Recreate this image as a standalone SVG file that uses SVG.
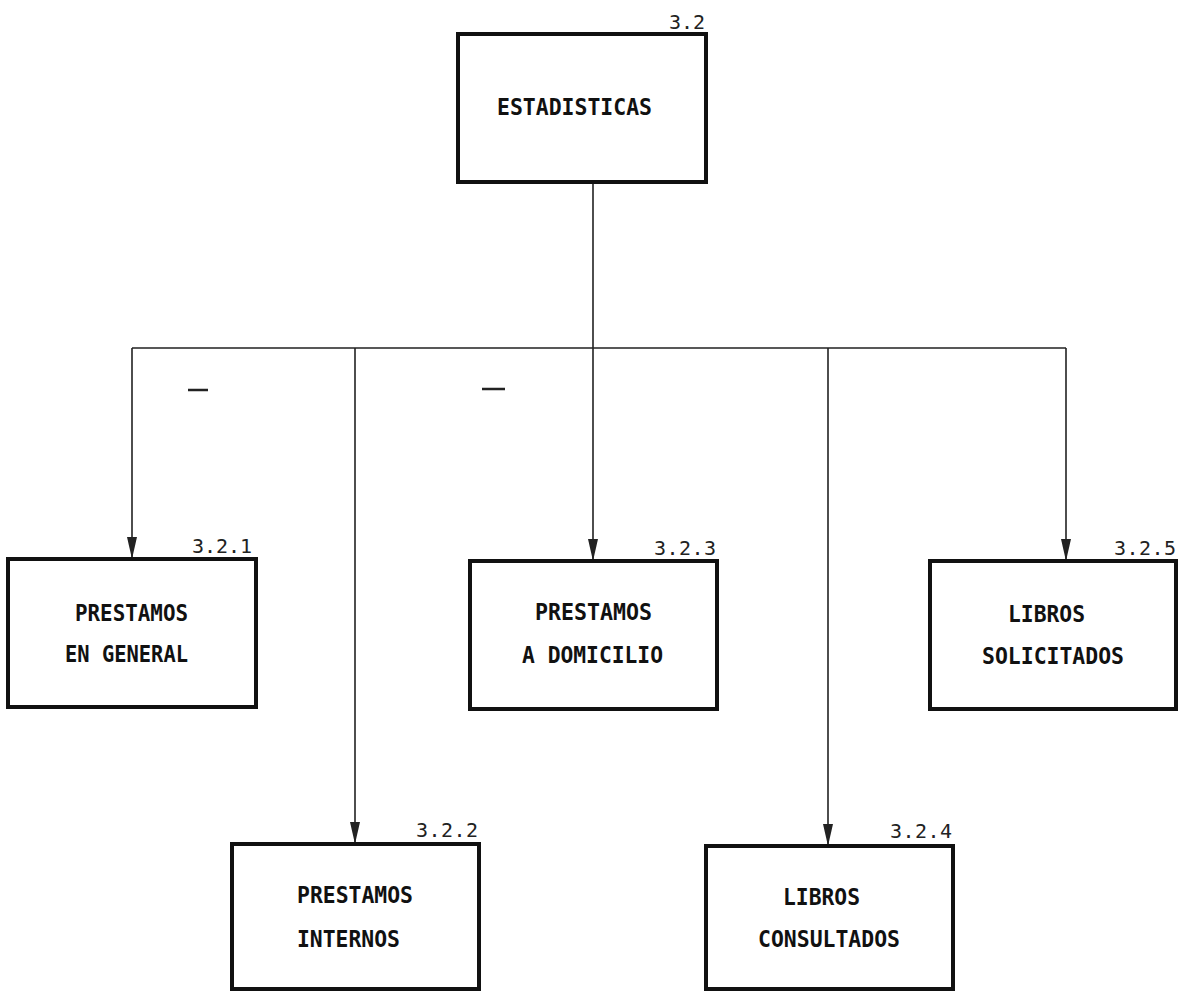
<svg xmlns="http://www.w3.org/2000/svg" width="1191" height="992" viewBox="0 0 1191 992">
<defs>
<style>
.box{fill:#fff;stroke:#111;stroke-width:4}
.lbl{font-family:"DejaVu Sans Mono","Liberation Mono",monospace;font-weight:bold;font-size:23.5px;fill:#111}
.num{font-family:"DejaVu Sans Mono","Liberation Mono",monospace;font-size:20px;fill:#222}
.con{fill:none;stroke:#222;stroke-width:1.6}
.ah{fill:#222}
</style>
</defs>
<rect width="1191" height="992" fill="#fff"/>
<g id="connectors">
<path class="con" d="M593,182 V561 M132,348 H1066 M132,348 V559 M355,348 V844 M828,348 V846 M1066,348 V561"/>
<polygon class="ah" points="127,537 137,537 132,559"/>
<polygon class="ah" points="350,822 360,822 355,844"/>
<polygon class="ah" points="588,539 598,539 593,561"/>
<polygon class="ah" points="823,824 833,824 828,846"/>
<polygon class="ah" points="1061,539 1071,539 1066,561"/>
<path d="M188,390 H208 M482,389 H505" stroke="#222" stroke-width="2.5"/>
</g>
<g id="n32">
<rect class="box" x="458" y="34" width="248" height="148"/>
<text class="num" x="705" y="29" text-anchor="end" textLength="36">3.2</text>
<text class="lbl" x="497" y="115" textLength="155" lengthAdjust="spacingAndGlyphs">ESTADISTICAS</text>
</g>
<g id="n321">
<rect class="box" x="8" y="559" width="248" height="148"/>
<text class="num" x="252" y="553" text-anchor="end" textLength="60">3.2.1</text>
<text class="lbl" x="75" y="621" textLength="113" lengthAdjust="spacingAndGlyphs">PRESTAMOS</text>
<text class="lbl" x="65" y="662" textLength="123" lengthAdjust="spacingAndGlyphs">EN GENERAL</text>
</g>
<g id="n323">
<rect class="box" x="470" y="561" width="247" height="148"/>
<text class="num" x="716" y="555" text-anchor="end" textLength="62">3.2.3</text>
<text class="lbl" x="535" y="620" textLength="117" lengthAdjust="spacingAndGlyphs">PRESTAMOS</text>
<text class="lbl" x="522" y="663" textLength="141" lengthAdjust="spacingAndGlyphs">A DOMICILIO</text>
</g>
<g id="n325">
<rect class="box" x="930" y="561" width="246" height="148"/>
<text class="num" x="1176" y="555" text-anchor="end" textLength="62">3.2.5</text>
<text class="lbl" x="1008" y="622" textLength="77" lengthAdjust="spacingAndGlyphs">LIBROS</text>
<text class="lbl" x="982" y="664" textLength="142" lengthAdjust="spacingAndGlyphs">SOLICITADOS</text>
</g>
<g id="n322">
<rect class="box" x="232" y="844" width="247" height="145"/>
<text class="num" x="478" y="837" text-anchor="end" textLength="62">3.2.2</text>
<text class="lbl" x="297" y="903" textLength="116" lengthAdjust="spacingAndGlyphs">PRESTAMOS</text>
<text class="lbl" x="297" y="947" textLength="103" lengthAdjust="spacingAndGlyphs">INTERNOS</text>
</g>
<g id="n324">
<rect class="box" x="706" y="846" width="247" height="143"/>
<text class="num" x="952" y="838" text-anchor="end" textLength="62">3.2.4</text>
<text class="lbl" x="783" y="905" textLength="77" lengthAdjust="spacingAndGlyphs">LIBROS</text>
<text class="lbl" x="758" y="947" textLength="142" lengthAdjust="spacingAndGlyphs">CONSULTADOS</text>
</g>
</svg>
